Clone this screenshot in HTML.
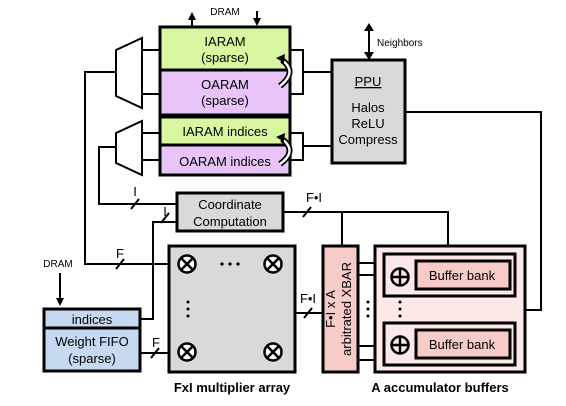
<!DOCTYPE html>
<html><head><style>
html,body{margin:0;padding:0;background:#fff;width:566px;height:406px;overflow:hidden}
svg{display:block}
text{font-family:"Liberation Sans",sans-serif;fill:#000}
</style></head><body>
<svg width="566" height="406" viewBox="0 0 566 406" xmlns="http://www.w3.org/2000/svg">
<defs>
<marker id="ah" markerWidth="8" markerHeight="8" refX="4" refY="4" orient="auto" markerUnits="userSpaceOnUse"><path d="M0,0 L8,4 L0,8 z" fill="#000"/></marker>
<g id="otimes"><circle r="8.5" fill="#fff" stroke="#000" stroke-width="2.5"/><path d="M-6,-6 L6,6 M6,-6 L-6,6" stroke="#000" stroke-width="2.5"/></g>
<g id="oplus"><circle r="8.5" fill="none" stroke="#000" stroke-width="2.5"/><path d="M-8.5,0 H8.5 M0,-8.5 V8.5" stroke="#000" stroke-width="2.5"/></g>
</defs>
<g stroke="#000" stroke-width="2" fill="none">
<line x1="192" y1="27" x2="192" y2="16" marker-end="url(#ah)"/>
<line x1="257" y1="11" x2="257" y2="22" marker-end="url(#ah)"/>
<line x1="369" y1="30" x2="369" y2="53"/>
<path d="M364,31 L369,23 L374,31 z M364,52 L369,60 L374,52 z" fill="#000" stroke="none"/>
<line x1="142" y1="50" x2="160" y2="50"/>
<line x1="142" y1="94" x2="160" y2="94"/>
<line x1="142" y1="133" x2="160" y2="133"/>
<line x1="142" y1="160" x2="160" y2="160"/>
<polyline points="290,50 303,50 303,94 290,94"/>
<line x1="303" y1="72" x2="332" y2="72"/>
<polyline points="290,133 303,133 303,160 290,160"/>
<line x1="303" y1="146" x2="332" y2="146"/>
<polyline points="405,112 541,112 541,310 525,310"/>
<polyline points="116,72 85,72 85,264 170,264"/>
<polyline points="116,147 99,147 99,204 178,204"/>
<polyline points="140,319 153,319 153,222 178,222"/>
<polyline points="283,212 448,212 448,246"/>
<line x1="342" y1="212" x2="342" y2="246"/>
<line x1="140" y1="353" x2="170" y2="353"/>
<line x1="295" y1="313" x2="323" y2="313"/>
<line x1="358" y1="263" x2="384" y2="263"/>
<line x1="358" y1="275" x2="384" y2="275"/>
<line x1="358" y1="346" x2="384" y2="346"/>
<line x1="358" y1="360" x2="384" y2="360"/>
<line x1="60" y1="273" x2="60" y2="302" marker-end="url(#ah)"/>
<line x1="131" y1="209" x2="139" y2="199"/>
<line x1="161" y1="223" x2="169" y2="213"/>
<line x1="116" y1="269" x2="124" y2="259"/>
<line x1="151" y1="358" x2="159" y2="348"/>
<line x1="303" y1="217" x2="311" y2="207"/>
<line x1="304" y1="318" x2="312" y2="308"/>
</g>
<polygon points="116,50 142,38 142,108 116,96" fill="#fff" stroke="#000" stroke-width="2"/>
<polygon points="116,133 142,121 142,175 116,163" fill="#fff" stroke="#000" stroke-width="2"/>
<g stroke="#000" stroke-width="3">
<rect x="160" y="27" width="130" height="43" fill="#d8f7a0"/>
<rect x="160" y="70" width="130" height="45" fill="#e8c4f8"/>
<rect x="160" y="117" width="130" height="28" fill="#d8f7a0"/>
<rect x="160" y="145" width="130" height="30" fill="#e8c4f8"/>
<rect x="332" y="60" width="73" height="103" fill="#d9d9d9"/>
<rect x="177" y="193" width="106" height="38" fill="#d9d9d9"/>
<rect x="169" y="246" width="126" height="126" fill="#d9d9d9"/>
<rect x="323" y="246" width="35" height="126" fill="#f7cbc8"/>
<rect x="375" y="246" width="150" height="126" fill="#fde9e7"/>
<rect x="384" y="254" width="131" height="42" fill="#fde9e7"/>
<rect x="384" y="323" width="131" height="42" fill="#fde9e7"/>
<rect x="416" y="261" width="94" height="28" fill="#f7cbc8"/>
<rect x="416" y="330" width="94" height="28" fill="#f7cbc8"/>
<rect x="44" y="309" width="96" height="19" fill="#c6d9f1"/>
<rect x="44" y="328" width="96" height="43" fill="#c6d9f1"/>
</g>
<g fill="none">
<path d="M282,60 Q298,72 280,86" stroke="#000" stroke-width="6"/>
<path d="M282,60 Q298,72 280,86" stroke="#fff" stroke-width="2.5"/>
<path d="M282,139 Q298,151 280,164" stroke="#000" stroke-width="6"/>
<path d="M282,139 Q298,151 280,164" stroke="#fff" stroke-width="2.5"/>
</g>
<path d="M276,58 L285,54 L284,63 z M276,137 L285,133 L284,142 z" fill="#000"/>
<use href="#otimes" x="187" y="264"/><use href="#otimes" x="273" y="264"/>
<use href="#otimes" x="187" y="352"/><use href="#otimes" x="273" y="352"/>
<use href="#oplus" x="400" y="277"/><use href="#oplus" x="400" y="345"/>
<g fill="#000">
<circle cx="222" cy="264" r="1.6"/><circle cx="230" cy="264" r="1.6"/><circle cx="238" cy="264" r="1.6"/>
<circle cx="188" cy="302" r="1.5"/><circle cx="188" cy="309" r="1.5"/><circle cx="188" cy="316" r="1.5"/>
<circle cx="368" cy="302" r="1.5"/><circle cx="368" cy="309" r="1.5"/><circle cx="368" cy="316" r="1.5"/>
<circle cx="400" cy="302" r="1.5"/><circle cx="400" cy="309" r="1.5"/><circle cx="400" cy="316" r="1.5"/>
</g>
<g font-size="13" text-anchor="middle">
<text x="225" y="46">IARAM</text>
<text x="225" y="62">(sparse)</text>
<text x="225" y="89">OARAM</text>
<text x="225" y="105">(sparse)</text>
<text x="225" y="136">IARAM indices</text>
<text x="225" y="166">OARAM indices</text>
<text x="368" y="86" text-decoration="underline">PPU</text>
<text x="368" y="112">Halos</text>
<text x="368" y="128">ReLU</text>
<text x="368" y="144">Compress</text>
<text x="230" y="209">Coordinate</text>
<text x="230" y="226">Computation</text>
<text x="462" y="280">Buffer bank</text>
<text x="462" y="349">Buffer bank</text>
<text x="92" y="324">indices</text>
<text x="92" y="346">Weight FIFO</text>
<text x="92" y="363">(sparse)</text>
<text x="135" y="196">I</text>
<text x="165" y="216">I</text>
<text x="120" y="258">F</text>
<text x="156" y="347">F</text>
<text x="314" y="202">F•I</text>
<text x="308" y="303">F•I</text>
</g>
<text x="335" y="309" font-size="13" text-anchor="middle" transform="rotate(-90 335 309)">F•I x A</text>
<text x="351" y="309" font-size="13" text-anchor="middle" transform="rotate(-90 351 309)">arbitrated XBAR</text>
<g font-size="10" text-anchor="middle">
<text x="225" y="15">DRAM</text>
<text x="58" y="267">DRAM</text>
<text x="377" y="46" text-anchor="start">Neighbors</text>
</g>
<g font-size="13" font-weight="bold" text-anchor="middle">
<text x="232" y="392">FxI multiplier array</text>
<text x="440" y="392">A accumulator buffers</text>
</g>
</svg>
</body></html>
